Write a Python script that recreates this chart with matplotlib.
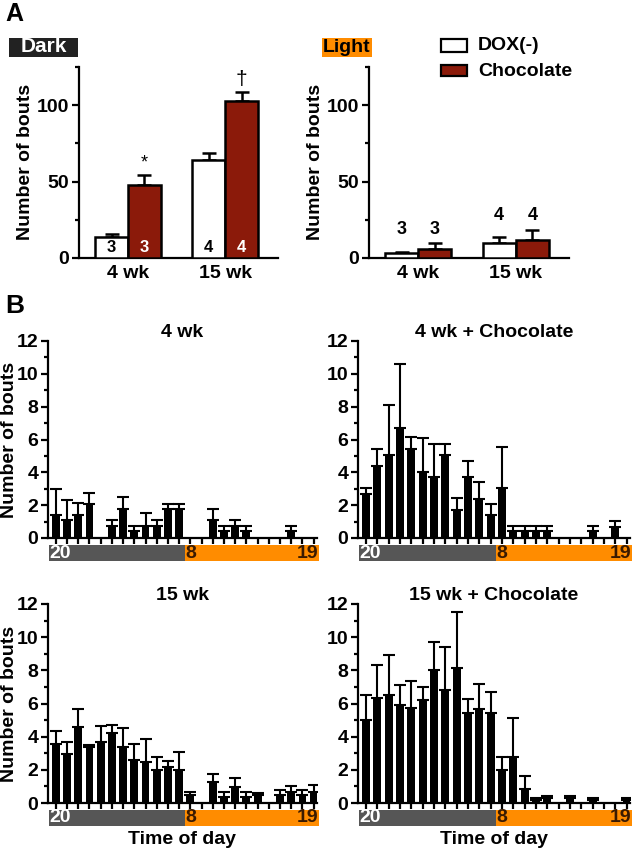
import matplotlib
matplotlib.use("Agg")
import matplotlib.pyplot as plt
import matplotlib.transforms as mtrans
from matplotlib.patches import Rectangle
import numpy as np

plt.rcParams['font.family'] = ['Liberation Sans', 'DejaVu Sans']
plt.rcParams['font.weight'] = 'bold'

# ---------------- Data: panel A ----------------
groups_a = ["4 wk", "15 wk"]
dark_dox = [13.5, 64]
dark_dox_err = [2.5, 4.5]
dark_choc = [47.5, 102.5]
dark_choc_err = [7, 6]
light_dox = [3, 10]
light_dox_err = [0.8, 3.5]
light_choc = [6, 11.5]
light_choc_err = [3.8, 6.5]
n_dox = ["3", "4"]
n_choc = ["3", "4"]
sig_dark = ["*", "\u2020"]

# ---------------- Data: panel B ----------------
hours = [20, 21, 22, 23, 0, 1, 2, 3, 4, 5, 6, 7, 8, 9, 10, 11, 12, 13, 14, 15, 16, 17, 18, 19]
wk4_mean = [1.4, 1.1, 1.4, 2.05, 0, 0.75, 1.75, 0.4, 0.75, 0.75, 1.75, 1.75,
            0, 0, 1.1, 0.4, 0.75, 0.4, 0, 0, 0, 0.4, 0, 0]
wk4_top = [3.0, 2.3, 2.15, 2.75, 0, 1.1, 2.5, 0.75, 1.5, 1.1, 2.1, 2.1,
           0, 0, 1.75, 0.75, 1.1, 0.75, 0, 0, 0, 0.75, 0, 0]
wk4c_mean = [2.7, 4.4, 5.05, 6.7, 5.4, 4.05, 3.7, 5.05, 1.7, 3.7, 2.4, 1.4,
             3.05, 0.4, 0.4, 0.4, 0.4, 0, 0, 0, 0.4, 0, 0.7, 0]
wk4c_top = [3.05, 5.4, 8.1, 10.6, 6.15, 6.1, 5.7, 5.7, 2.45, 4.7, 3.4, 2.1,
            5.55, 0.75, 0.75, 0.75, 0.75, 0, 0, 0, 0.75, 0, 1.05, 0]
wk15_mean = [3.55, 2.95, 4.6, 3.4, 3.7, 4.25, 3.4, 2.6, 2.5, 2.0, 2.15, 2.0,
             0.5, 0, 1.25, 0.35, 0.95, 0.35, 0.5, 0, 0.5, 0.65, 0.5, 0.65]
wk15_top = [4.35, 3.65, 5.65, 3.5, 4.65, 4.7, 4.5, 3.55, 3.85, 2.75, 2.55, 3.05,
            0.65, 0, 1.75, 0.65, 1.5, 0.65, 0.6, 0, 0.8, 1.0, 0.8, 1.1]
wk15c_mean = [5.0, 6.35, 6.5, 5.9, 5.75, 6.2, 8.0, 6.8, 8.15, 5.45, 5.65, 5.45,
              2.0, 2.75, 0.85, 0.2, 0.3, 0, 0.3, 0, 0.2, 0, 0, 0.2]
wk15c_top = [6.5, 8.3, 8.9, 7.1, 7.35, 7.0, 9.7, 9.4, 11.5, 6.3, 7.15, 6.7,
             2.75, 5.15, 1.65, 0.3, 0.45, 0, 0.45, 0, 0.3, 0, 0, 0.3]
titles_b = ["4 wk", "4 wk + Chocolate", "15 wk", "15 wk + Chocolate"]

CHOC = '#8B1A0A'
GRAY = '#565656'
ORANGE = '#FF8C00'
FS = 14

W, H = 634, 852
fig = plt.figure(figsize=(W / 100, H / 100), dpi=100)


def fx(px):
    return px / W


def fy(py):
    return 1 - py / H


def px_axes(left, right, top, bottom):
    return fig.add_axes([left / W, 1 - bottom / H, (right - left) / W, (bottom - top) / H])


def style(ax, lw=1.6):
    for s in ['top', 'right']:
        ax.spines[s].set_visible(False)
    for s in ['left', 'bottom']:
        ax.spines[s].set_linewidth(lw)
    ax.tick_params(width=lw, length=5, labelsize=FS, pad=2)
    ax.tick_params(which='minor', width=lw, length=3)


# ---------------- Panel A ----------------
def panel_a(ax, dox, dox_err, choc, choc_err, inside):
    x = np.arange(len(groups_a))
    w = 0.34
    ax.bar(x - w / 2, dox, w, color='white', edgecolor='black', linewidth=1.8, zorder=3)
    ax.bar(x + w / 2, choc, w, color=CHOC, edgecolor='black', linewidth=1.8, zorder=3)
    ax.errorbar(x - w / 2, dox, yerr=[np.zeros(len(dox)), dox_err], fmt='none',
                ecolor='black', elinewidth=1.8, capsize=5, capthick=1.8, zorder=2)
    ax.errorbar(x + w / 2, choc, yerr=[np.zeros(len(choc)), choc_err], fmt='none',
                ecolor='black', elinewidth=1.8, capsize=5, capthick=1.8, zorder=2)
    ax.set_xlim(-0.505, 1.546)
    ax.set_ylim(0, 125)
    ax.set_yticks([0, 50, 100])
    ax.set_yticks([25, 75, 125], minor=True)
    ax.set_xticks(x)
    style(ax)
    ax.set_xticklabels(groups_a, fontsize=FS, fontweight='bold')
    ax.tick_params(axis='x', length=0, pad=5)
    for i in range(len(x)):
        if inside:
            ax.text(x[i] - w / 2, 2.0, n_dox[i], ha='center', va='bottom', fontsize=12, color='black')
            ax.text(x[i] + w / 2, 2.0, n_choc[i], ha='center', va='bottom', fontsize=12, color='white')
        else:
            ax.text(x[i] - w / 2, dox[i] + dox_err[i] + 9, n_dox[i], ha='center', va='bottom', fontsize=13)
            ax.text(x[i] + w / 2, dox[i] + dox_err[i] + 9, n_choc[i], ha='center', va='bottom', fontsize=13)


axA1 = px_axes(79, 278, 67, 258)
panel_a(axA1, dark_dox, dark_dox_err, dark_choc, dark_choc_err, True)
axA1.text(0.17, dark_choc[0] + dark_choc_err[0] + 2, sig_dark[0], ha='center', va='bottom',
          fontsize=13, fontweight='normal')
axA1.text(1.17, dark_choc[1] + dark_choc_err[1] + 2, sig_dark[1], ha='center', va='bottom',
          fontsize=15, fontweight='normal')
fig.text(fx(26), fy(162), "Number of bouts", rotation=90, ha='center', va='center',
         fontsize=FS, fontweight='bold')

axA2 = px_axes(369, 569, 67, 258)
panel_a(axA2, light_dox, light_dox_err, light_choc, light_choc_err, False)
fig.text(fx(316), fy(162), "Number of bouts", rotation=90, ha='center', va='center',
         fontsize=FS, fontweight='bold')

# Dark / Light boxes
fig.patches.append(Rectangle((fx(9), fy(57)), (78 - 9) / W, 19 / H, transform=fig.transFigure,
                             fc='#222222', ec='none'))
fig.text(fx(43.5), fy(47), "Dark", fontsize=15, fontweight='bold', color='white',
         va='center', ha='center')
fig.patches.append(Rectangle((fx(322), fy(57)), (372 - 322) / W, 19 / H, transform=fig.transFigure,
                             fc=ORANGE, ec='none'))
fig.text(fx(347), fy(47), "Light", fontsize=FS, fontweight='bold', color='black',
         va='center', ha='center')

# legend
fig.patches.append(Rectangle((fx(441), fy(52)), 26 / W, 13 / H, transform=fig.transFigure,
                             fc='white', ec='black', lw=1.6))
fig.patches.append(Rectangle((fx(441), fy(76)), 26 / W, 11 / H, transform=fig.transFigure,
                             fc=CHOC, ec='black', lw=1.6))
fig.text(fx(478), fy(45), "DOX(-)", fontsize=FS, va='center', ha='left')
fig.text(fx(478), fy(71), "Chocolate", fontsize=FS, va='center', ha='left')

fig.text(fx(5), fy(14), "A", fontsize=18, fontweight='bold', va='center', ha='left')
fig.text(fx(5), fy(306), "B", fontsize=19, fontweight='bold', va='center', ha='left')


# ---------------- Panel B ----------------
def panel_b(ax, mean, top, title, ylabel, xlabel):
    x = np.arange(len(hours))
    mean = np.array(mean)
    top = np.array(top)
    ax.bar(x, mean, 0.7, color='black', zorder=3)
    m = mean > 0
    ax.errorbar(x[m], mean[m], yerr=[np.zeros(m.sum()), (top - mean)[m]], fmt='none',
                ecolor='black', elinewidth=1.5, capsize=4, capthick=1.5, zorder=2)
    ax.set_xlim(-0.7, 23.3)
    ax.set_ylim(0, 12)
    ax.set_yticks(range(0, 13, 2))
    ax.set_yticks(range(1, 12, 2), minor=True)
    ax.set_xticks(x)
    ax.set_xticklabels([])
    style(ax)
    ax.tick_params(axis='x', length=4)
    ax.set_title(title, fontsize=FS, fontweight='bold', pad=1)
    pos = ax.get_position()
    if ylabel:
        fig.text(fx(10), pos.y0 + pos.height / 2, "Number of bouts", rotation=90,
                 ha='center', va='center', fontsize=FS, fontweight='bold')
    if xlabel:
        fig.text(pos.x0 + pos.width / 2, fy(839), "Time of day", ha='center', va='center',
                 fontsize=FS, fontweight='bold')
    hpx = pos.height * H
    y0 = -23 / hpx
    hh = 16 / hpx
    tr = mtrans.blended_transform_factory(ax.transData, ax.transAxes)
    ax.add_patch(Rectangle((-0.62, y0), 12.12, hh, transform=tr, fc=GRAY, ec='none', clip_on=False))
    ax.add_patch(Rectangle((11.5, y0), 11.95, hh, transform=tr, fc=ORANGE, ec='none', clip_on=False))
    ax.text(-0.55, y0 + hh / 2, str(hours[0]), transform=tr, color='white', fontsize=FS,
            fontweight='bold', ha='left', va='center')
    ax.text(11.55, y0 + hh / 2, str(hours[12]), transform=tr, color='#3a1a00', fontsize=FS,
            fontweight='bold', ha='left', va='center')
    ax.text(23.45, y0 + hh / 2, str(hours[-1]), transform=tr, color='#3a1a00', fontsize=FS,
            fontweight='bold', ha='right', va='center')


axB1 = px_axes(48, 317, 341, 538)
panel_b(axB1, wk4_mean, wk4_top, titles_b[0], True, False)
axB2 = px_axes(358, 630, 341, 538)
panel_b(axB2, wk4c_mean, wk4c_top, titles_b[1], False, False)
axB3 = px_axes(48, 317, 604, 803)
panel_b(axB3, wk15_mean, wk15_top, titles_b[2], True, True)
axB4 = px_axes(358, 630, 604, 803)
panel_b(axB4, wk15c_mean, wk15c_top, titles_b[3], False, True)

fig.savefig("out.png", dpi=100)
